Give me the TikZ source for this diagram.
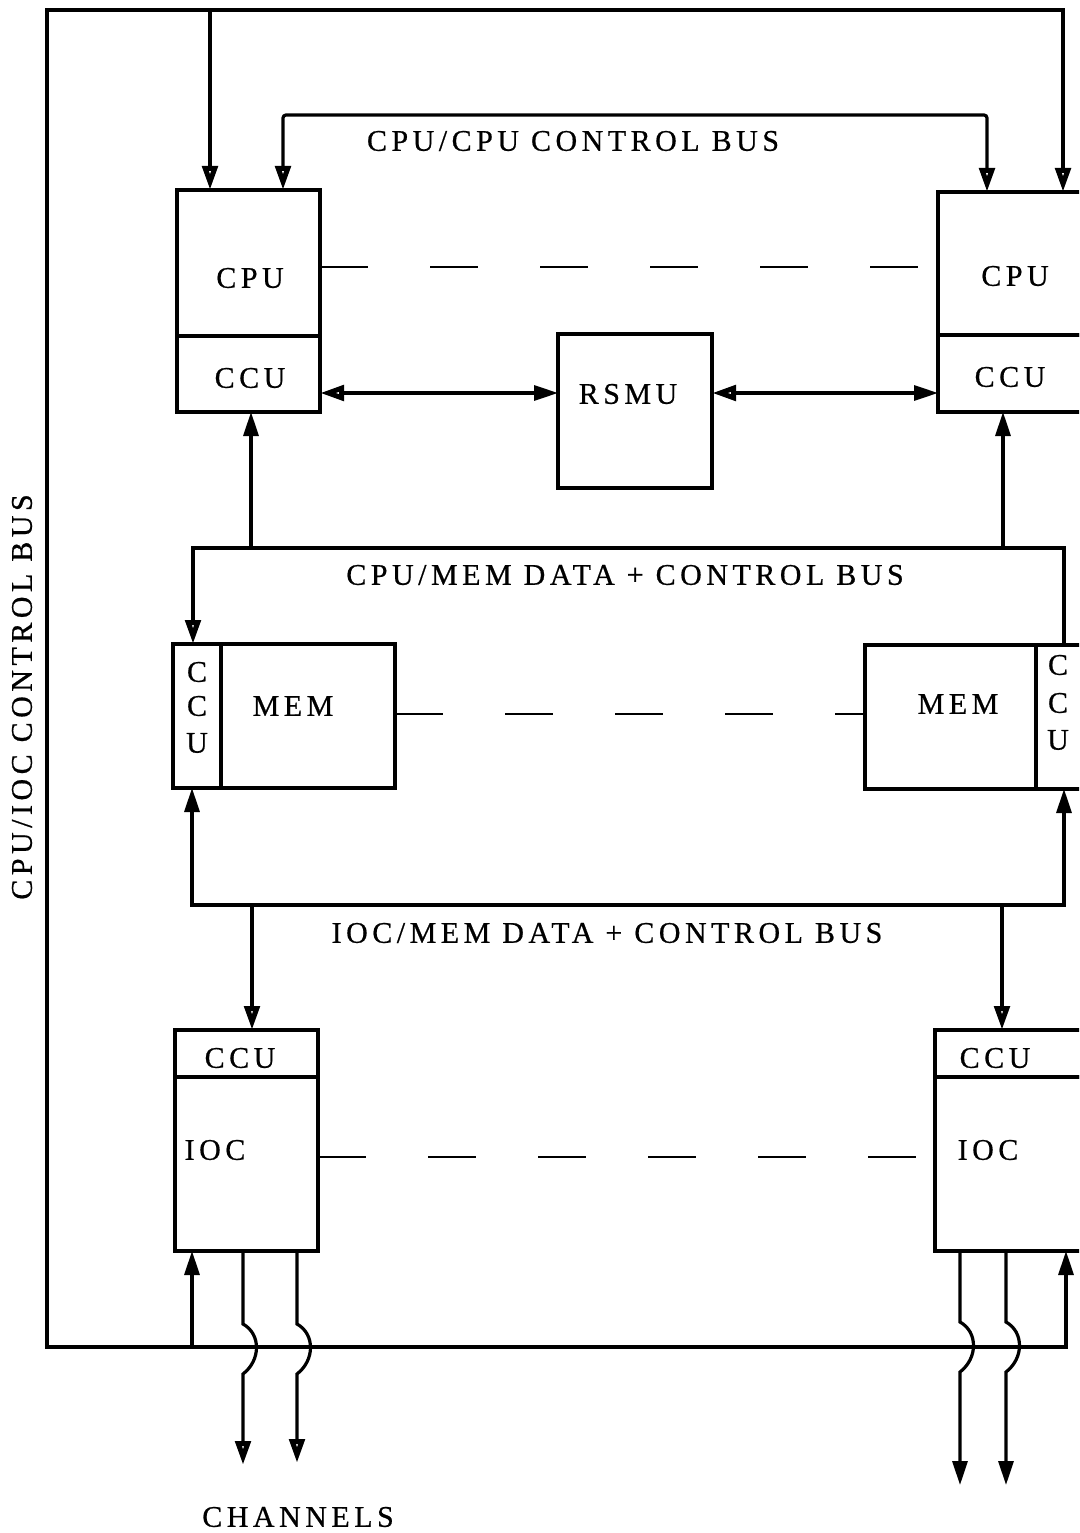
\documentclass[tikz,border=0pt]{standalone}
\usepackage{fontspec}
\setmainfont{Liberation Serif}[LetterSpace=15,FakeBold=0.6]
\usetikzlibrary{arrows.meta}
\begin{document}
\begin{tikzpicture}[x=1pt,y=-1pt,
  box/.style={draw,line width=3.2pt,inner sep=0pt,outer sep=0pt},
  ln/.style={line width=3.2pt},
  dsh/.style={line width=2.4pt,dash pattern=on 48pt off 62pt},
  lbl/.style={font=\fontsize{30}{36}\selectfont,inner sep=0pt},
  tO/.tip={Triangle[open,length=24pt,width=15pt,line width=5pt]},
  tF/.tip={Triangle[length=24pt,width=15pt]},
  arrO/.style={ln,-tO},
  arrF/.style={ln,-tF}
]
\useasboundingbox (0,0) rectangle (1079,1533);
\clip (0,0) rectangle (1079,1533);
\fill[white] (0,0) rectangle (1079,1533);

% boxes
\node[box,minimum width=143pt,minimum height=146pt] (cpuL) at (248.5,263) {};
\node[box,minimum width=143pt,minimum height=76pt] (ccuL) at (248.5,374) {};
\node[box,minimum width=172pt,minimum height=143pt] (cpuR) at (1024,263.5) {};
\node[box,minimum width=172pt,minimum height=77pt] (ccuR) at (1024,373.5) {};
\node[box,minimum width=154pt,minimum height=154pt] (rsmu) at (635,411) {};
\node[box,minimum width=48pt,minimum height=144pt] (mccL) at (197,716) {};
\node[box,minimum width=174pt,minimum height=144pt] (memL) at (308,716) {};
\node[box,minimum width=171pt,minimum height=144pt] (memR) at (950.5,717) {};
\node[box,minimum width=74pt,minimum height=144pt] (mccR) at (1073,717) {};
\node[box,minimum width=143pt,minimum height=47pt] (ciL) at (246.5,1053.5) {};
\node[box,minimum width=143pt,minimum height=174pt] (iocL) at (246.5,1164) {};
\node[box,minimum width=175pt,minimum height=47pt] (ciR) at (1022.5,1053.5) {};
\node[box,minimum width=175pt,minimum height=174pt] (iocR) at (1022.5,1164) {};

% texts
\node[lbl] (tcpuL) at (250,278) {CPU};
\node[lbl] (tccuL) at (250,378) {CCU};
\node[lbl] (tcpuR) at (1015,276) {CPU};
\node[lbl] (tccuR) at (1010,377) {CCU};
\node[lbl] (trsmu) at (628,394) {RSMU};
\node[lbl] (tmemL) at (293,706) {MEM};
\node[lbl] (tmemR) at (958,704) {MEM};
\node[lbl] (tmcL1) at (197,672) {C};
\node[lbl] (tmcL2) at (197,706) {C};
\node[lbl] (tmcL3) at (197,743) {U};
\node[lbl] (tmcR1) at (1058,665) {C};
\node[lbl] (tmcR2) at (1058,703) {C};
\node[lbl] (tmcR3) at (1058,740) {U};
\node[lbl] (tciL) at (240,1058) {CCU};
\node[lbl] (tiocL) at (215,1150) {IOC};
\node[lbl] (tciR) at (995,1058) {CCU};
\node[lbl] (tiocR) at (988,1150) {IOC};
\node[lbl] (tbus1) at (573,141) {CPU/CPU CONTROL BUS};
\node[lbl] (tbus2) at (625,575) {CPU/MEM DATA + CONTROL BUS};
\node[lbl] (tbus3) at (607,933) {IOC/MEM DATA + CONTROL BUS};
\node[lbl,rotate=90] (tbus4) at (22,697) {CPU/IOC CONTROL BUS};
\node[lbl] (tchan) at (298,1517) {CHANNELS};

% outer CPU/IOC control bus
\coordinate (oTL) at (47,10);
\coordinate (oTR) at (1063,10);
\coordinate (oBL) at (47,1347);
\coordinate (oBR) at (1066,1347);
\draw[ln,tF-tO] (oBR |- iocR.south) -- (oBR) -- (oBL) -- (oTL) -- (oTR) -- (oTR |- cpuR.north);
\coordinate (tA) at (210,10);
\draw[arrO] (tA) -- (tA |- cpuL.north);
\coordinate (bA) at (192,1347);
\draw[arrF] (bA) -- (bA |- iocL.south);

% CPU/CPU control bus
\coordinate (cc1) at (283,115);
\coordinate (cc2) at (987,115);
\draw[ln,tO-tO,rounded corners=3pt] (cc1 |- cpuL.north) -- (cc1) -- (cc2) -- (cc2 |- cpuR.north);

% dashed links
\coordinate (dy1) at (0,267);
\draw[dsh] (cpuL.east |- dy1) -- (cpuR.west |- dy1);
\coordinate (dy2) at (0,714);
\draw[dsh] (memL.east |- dy2) -- (memR.west |- dy2);
\coordinate (dy3) at (0,1157);
\draw[dsh] (iocL.east |- dy3) -- (iocR.west |- dy3);

% RSMU links
\coordinate (ry) at (0,393);
\draw[ln,tO-tF] (ccuL.east |- ry) -- (rsmu.west |- ry);
\draw[ln,tO-tF] (rsmu.east |- ry) -- (ccuR.west |- ry);

% CPU/MEM bus
\coordinate (m1) at (193,548);
\coordinate (m2) at (1064,548);
\draw[ln,-tO] (m2 |- mccR.north) -- (m2) -- (m1) -- (m1 |- mccL.north);
\coordinate (m3) at (251,548);
\draw[arrF] (m3) -- (m3 |- ccuL.south);
\coordinate (m4) at (1003,548);
\draw[arrF] (m4) -- (m4 |- ccuR.south);

% IOC/MEM bus
\coordinate (i1) at (192,905);
\coordinate (i2) at (1064,905);
\draw[ln,tF-tF] (i1 |- mccL.south) -- (i1) -- (i2) -- (i2 |- mccR.south);
\coordinate (i3) at (252,905);
\draw[arrO] (i3) -- (i3 |- ciL.north);
\coordinate (i4) at (1002,905);
\draw[arrO] (i4) -- (i4 |- ciR.north);

% channels
\coordinate (ch1) at (243,1465);
\coordinate (ch2) at (297,1463);
\coordinate (ch3) at (960,1485);
\coordinate (ch4) at (1006,1485);
\draw[arrO] (ch1 |- iocL.south) -- (243,1324) .. controls +(18,10) and +(18,-14) .. (243,1374) -- (ch1);
\draw[arrO] (ch2 |- iocL.south) -- (297,1324) .. controls +(18,10) and +(18,-14) .. (297,1374) -- (ch2);
\draw[arrF] (ch3 |- iocR.south) -- (960,1322) .. controls +(18,10) and +(18,-14) .. (960,1372) -- (ch3);
\draw[arrF] (ch4 |- iocR.south) -- (1006,1322) .. controls +(18,10) and +(18,-14) .. (1006,1372) -- (ch4);
\end{tikzpicture}
\end{document}
